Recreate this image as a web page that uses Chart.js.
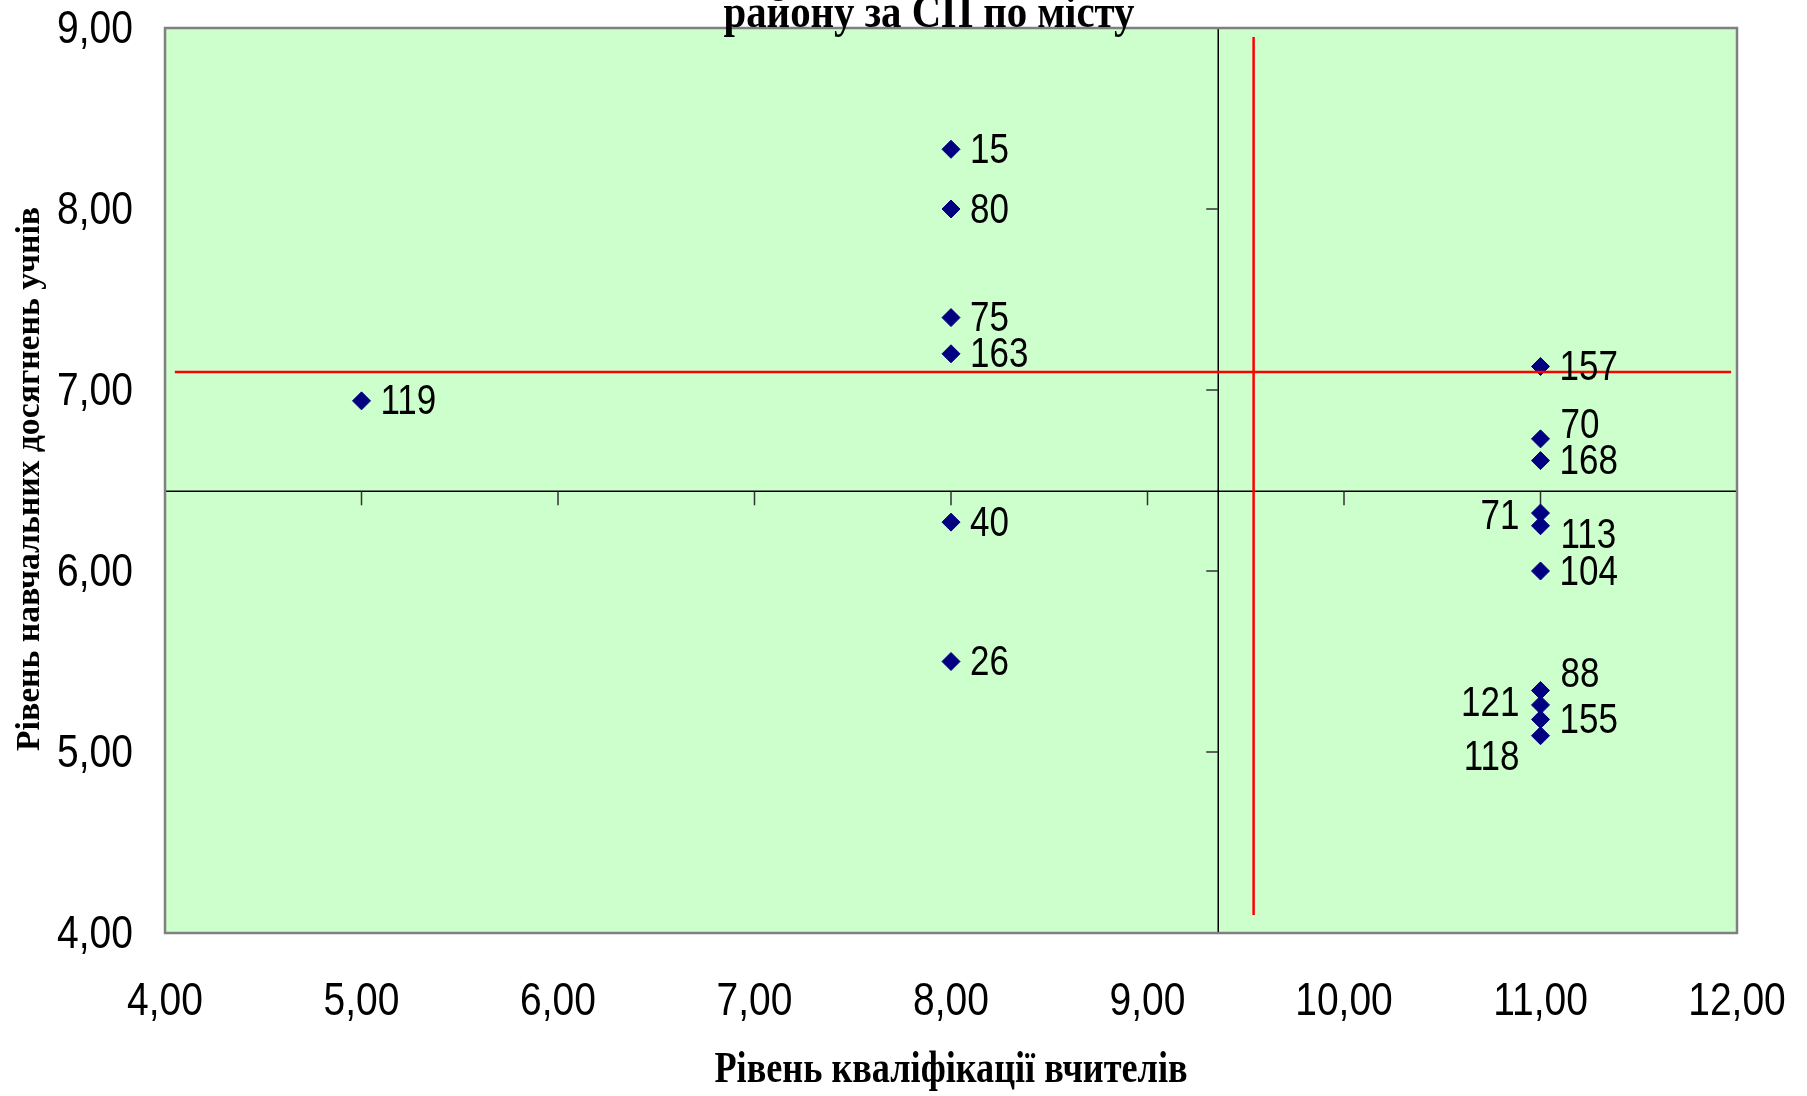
<!DOCTYPE html>
<html lang="uk">
<head>
    <meta charset="UTF-8">
    <title>Рівень кваліфікації вчителів / рівень навчальних досягнень учнів</title>
    <script src="https://cdn.jsdelivr.net/npm/chart.js"></script>
    <style>
        body { margin: 0; background: #fff; }
        #wrap { width: 1807px; height: 1096px; }
    </style>
</head>
<body>
    <div id="wrap"><canvas id="myChart"></canvas></div>

    <script>
        // номери закладів та їх показники
        const schools = ['15', '80', '75', '163', '119', '40', '26', '157', '70', '168', '71', '113', '104', '88', '121', '155', '118'];
        const teacherLevel = [8, 8, 8, 8, 5, 8, 8, 11, 11, 11, 11, 11, 11, 11, 11, 11, 11];
        const studentLevel = [8.33, 8.00, 7.40, 7.20, 6.94, 6.27, 5.50, 7.13, 6.73, 6.61, 6.32, 6.25, 6.00, 5.34, 5.26, 5.18, 5.09];

        // середні по місту (червоні лінії)
        const meanTeacher = 9.54;
        const meanStudent = 7.10;
        const meanLineX = [4.05, 11.97];
        const meanLineY = [4.10, 8.95];

        // де перетинаються осі
        const AXIS_CROSS_X = 9.36;
        const AXIS_CROSS_Y = 6.44;

        const titleText = 'району за СП по місту';
        const xTitle = 'Рівень кваліфікації вчителів';
        const yTitle = 'Рівень навчальних досягнень учнів';

        // підписи, що зсунуті вручну
        const labelNudge = {
            '70': [20, -14], '113': [20, 9], '88': [20, -17],
            '71': [-21, 2], '121': [-21, -3], '118': [-21, 21]
        };

        const fmt = v => v.toFixed(2).replace('.', ',');

        function drawText(ctx, text, x, y, opts) {
            ctx.save();
            ctx.translate(x, y);
            if (opts.rotate) ctx.rotate(opts.rotate);
            ctx.font = opts.font;
            let sx = opts.sx || 1;
            if (opts.fitWidth) sx = opts.fitWidth / ctx.measureText(text).width;
            ctx.scale(sx, opts.sy || 1);
            ctx.fillStyle = '#000';
            ctx.textAlign = opts.align || 'center';
            ctx.textBaseline = opts.baseline || 'middle';
            ctx.fillText(text, 0, 0);
            ctx.restore();
        }

        const decor = {
            id: 'decor',
            beforeDraw(chart) {
                const { ctx, chartArea: a } = chart;
                ctx.save();
                ctx.fillStyle = '#CCFFCC';
                ctx.fillRect(a.left, a.top, a.right - a.left, a.bottom - a.top);
                ctx.restore();
            },
            beforeDatasetsDraw(chart) {
                const { ctx, chartArea: a, scales: { x, y } } = chart;
                const cx = x.getPixelForValue(AXIS_CROSS_X);
                const cy = y.getPixelForValue(AXIS_CROSS_Y);
                ctx.save();
                ctx.strokeStyle = '#000';
                ctx.lineWidth = 1.5;
                ctx.beginPath();
                ctx.moveTo(a.left, cy); ctx.lineTo(a.right, cy);
                ctx.moveTo(cx, a.top); ctx.lineTo(cx, a.bottom);
                ctx.stroke();
                ctx.strokeStyle = '#333';
                ctx.beginPath();
                x.ticks.forEach(t => {
                    if (t.value <= x.min || t.value >= x.max) return;
                    const px = x.getPixelForValue(t.value);
                    ctx.moveTo(px, cy); ctx.lineTo(px, cy + 14);
                });
                y.ticks.forEach(t => {
                    const py = y.getPixelForValue(t.value);
                    ctx.moveTo(cx - 12, py); ctx.lineTo(cx, py);
                });
                ctx.stroke();
                ctx.restore();
            },
            afterDatasetsDraw(chart) {
                const { ctx, chartArea: a, scales: { x, y } } = chart;
                // підписи точок
                schools.forEach((s, i) => {
                    const px = x.getPixelForValue(teacherLevel[i]);
                    const py = y.getPixelForValue(studentLevel[i]);
                    const [dx, dy] = labelNudge[s] || [19, 0];
                    drawText(ctx, s, px + dx, py + dy + 2, {
                        font: '35px "Liberation Sans", Arial, sans-serif',
                        sy: 1.2, align: dx < 0 ? 'right' : 'left'
                    });
                });
                // рамка
                ctx.save();
                ctx.strokeStyle = '#808080';
                ctx.lineWidth = 2.5;
                ctx.strokeRect(a.left, a.top, a.right - a.left, a.bottom - a.top);
                ctx.restore();
            },
            afterDraw(chart) {
                const { ctx, chartArea: a, scales: { x, y } } = chart;
                const tickFont = '39px "Liberation Sans", Arial, sans-serif';
                y.ticks.forEach(t => {
                    drawText(ctx, fmt(t.value), a.left - 32, y.getPixelForValue(t.value) + 2, { font: tickFont, sy: 1.2, align: 'right' });
                });
                x.ticks.forEach(t => {
                    drawText(ctx, fmt(t.value), x.getPixelForValue(t.value), 1002, { font: tickFont, sy: 1.2 });
                });
                drawText(ctx, xTitle, (a.left + a.right) / 2, 1071, { font: 'bold 44px "Liberation Serif", serif', fitWidth: 473 });
                drawText(ctx, yTitle, 30, 479, { font: 'bold 33px "Liberation Serif", serif', fitWidth: 544, rotate: -Math.PI / 2 });
                drawText(ctx, titleText, 929, 27, { font: 'bold 46px "Liberation Serif", serif', fitWidth: 411, baseline: 'alphabetic' });
            }
        };

        const points = schools.map((s, i) => ({ x: teacherLevel[i], y: studentLevel[i] }));

        new Chart(document.getElementById('myChart'), {
            type: 'scatter',
            data: {
                datasets: [
                    {
                        label: 'Середній рівень учнів',
                        data: meanLineX.map(v => ({ x: v, y: meanStudent })),
                        showLine: true,
                        borderColor: '#FF0000',
                        borderWidth: 2.5,
                        pointRadius: 0,
                        order: 0
                    },
                    {
                        label: 'Середній рівень вчителів',
                        data: meanLineY.map(v => ({ x: meanTeacher, y: v })),
                        showLine: true,
                        borderColor: '#FF0000',
                        borderWidth: 2.5,
                        pointRadius: 0,
                        order: 0
                    },
                    {
                        label: 'Заклади',
                        data: points,
                        pointStyle: 'rectRot',
                        pointRadius: 9,
                        backgroundColor: '#000080',
                        borderColor: '#000080',
                        borderWidth: 1,
                        order: 1
                    }
                ]
            },
            options: {
                responsive: true,
                maintainAspectRatio: false,
                animation: false,
                layout: { padding: { left: 0, right: 70, top: 28, bottom: 0 } },
                plugins: { legend: { display: false }, tooltip: { enabled: false } },
                scales: {
                    x: {
                        type: 'linear', min: 4, max: 12,
                        ticks: { stepSize: 1, display: false },
                        grid: { display: false },
                        border: { display: false },
                        afterFit: s => { s.height = 163; }
                    },
                    y: {
                        type: 'linear', min: 4, max: 9,
                        ticks: { stepSize: 1, display: false },
                        grid: { display: false },
                        border: { display: false },
                        afterFit: s => { s.width = 165; }
                    }
                }
            },
            plugins: [decor]
        });
    </script>
</body>
</html>
